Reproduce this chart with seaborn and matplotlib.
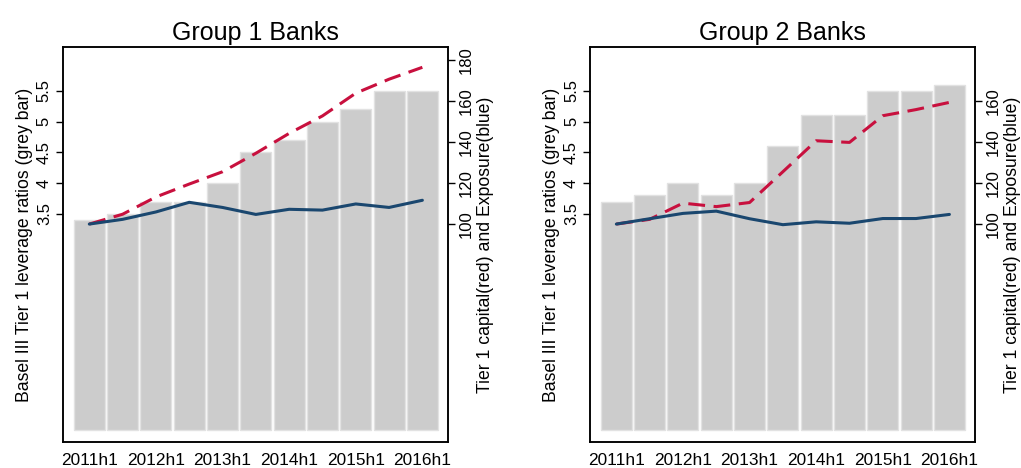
import numpy as np
import pandas as pd
import seaborn as sns
import matplotlib.pyplot as plt

# ========== DATA ==========
periods = ["2011h1", "2011h2", "2012h1", "2012h2", "2013h1", "2013h2",
           "2014h1", "2014h2", "2015h1", "2015h2", "2016h1"]

g1_ratio = [3.4, 3.5, 3.7, 3.7, 4.0, 4.5, 4.7, 5.0, 5.2, 5.5, 5.5]
g1_capital = [100, 104.8, 113.2, 119.5, 125.5, 134.5, 144.2, 152.7, 163.8, 170.6, 176.4]
g1_exposure = [100, 102.3, 105.9, 110.6, 108.1, 104.7, 107.2, 106.8, 109.8, 108.1, 111.6]

g2_ratio = [3.7, 3.8, 4.0, 3.8, 4.0, 4.6, 5.1, 5.1, 5.5, 5.5, 5.6]
g2_capital = [100, 102.3, 110.2, 108.5, 110.5, 125.5, 140.6, 139.8, 152.8, 155.8, 159.3]
g2_exposure = [100, 102.6, 105.2, 106.3, 102.6, 99.7, 101.1, 100.4, 102.7, 102.7, 104.7]

left_ticks = [3.5, 4, 4.5, 5, 5.5]
left_ticklabels = ["3.5", "4", "4.5", "5", "5.5"]
g1_right_ticks = [100, 120, 140, 160, 180]
g2_right_ticks = [100, 120, 140, 160]
xtick_labels = ["2011h1", "2012h1", "2013h1", "2014h1", "2015h1", "2016h1"]

RED = "#c8103e"
BLUE = "#1a476f"
BAR = "#cccccc"

sns.set_style("white")
plt.rcParams["font.family"] = ["Liberation Sans", "DejaVu Sans"]
plt.rcParams["text.color"] = "black"
plt.rcParams["axes.labelcolor"] = "black"
plt.rcParams["xtick.color"] = "black"
plt.rcParams["ytick.color"] = "black"


def panel(fig, rect, title, ratio, capital, exposure, right_ticks):
    df = pd.DataFrame({"period": periods, "pos": np.arange(len(periods)),
                       "ratio": ratio, "capital": capital, "exposure": exposure})

    # grey bars on the left axis
    ax = fig.add_axes(rect)
    sns.barplot(data=df, x="period", y="ratio", color=BAR, saturation=1,
                width=0.93, edgecolor="#e2e2e2", linewidth=1, ax=ax)
    ax.set_xlim(-0.79, 10.77)
    ax.set_ylim(-0.2, 6.21)
    ax.set_xticks(range(0, len(periods), 2))
    ax.set_xticklabels(xtick_labels, fontsize=12.4)
    ax.set_yticks(left_ticks)
    ax.set_yticklabels(left_ticklabels, fontsize=12, rotation=90, va="center")
    ax.set_xlabel("")
    ax.set_ylabel("Basel III Tier 1 leverage ratios (grey bar)", fontsize=12.7,
                  labelpad=3)
    ax.set_title(title, fontsize=18, pad=5, color="black")

    # capital / exposure lines on the right axis
    ax2 = ax.twinx()
    sns.lineplot(data=df, x="pos", y="capital", color=RED, linewidth=2.2,
                 ax=ax2, legend=False)
    ax2.lines[-1].set_dashes((5.5, 2.8))
    sns.lineplot(data=df, x="pos", y="exposure", color=BLUE, linewidth=2.2,
                 ax=ax2, legend=False)
    ax2.set_ylim(-6.2, 186.3)
    ax2.set_xlim(-0.79, 10.77)
    ax2.set_yticks(right_ticks)
    ax2.set_yticklabels([str(t) for t in right_ticks], fontsize=12,
                        rotation=90, va="center")
    ax2.set_xlabel("")
    ax2.set_ylabel("Tier 1 capital(red) and Exposure(blue)", fontsize=12.7,
                   rotation=90, labelpad=2)

    for a in (ax, ax2):
        for s in a.spines.values():
            s.set_color("black")
            s.set_linewidth(1.1)
        a.tick_params(direction="out", length=5, width=1, color="black", pad=3)
    return ax, ax2


fig = plt.figure(figsize=(10.21, 4.68), dpi=100)
panel(fig, [0.0617, 0.0556, 0.3771, 0.844], "Group 1 Banks",
      g1_ratio, g1_capital, g1_exposure, g1_right_ticks)
panel(fig, [0.5779, 0.0556, 0.3771, 0.844], "Group 2 Banks",
      g2_ratio, g2_capital, g2_exposure, g2_right_ticks)

plt.savefig("out.png", dpi=100)
